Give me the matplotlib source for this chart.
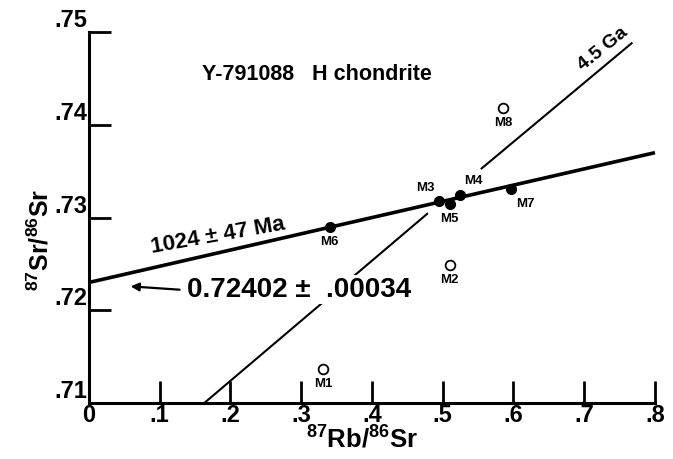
import numpy as np
import matplotlib
matplotlib.use("Agg")
import matplotlib.pyplot as plt

plt.rcParams['font.family'] = ['Liberation Sans', 'DejaVu Sans']
plt.rcParams['font.weight'] = 'bold'
plt.rcParams['mathtext.fontset'] = 'custom'
plt.rcParams['mathtext.rm'] = 'Liberation Sans:bold'
plt.rcParams['mathtext.bf'] = 'Liberation Sans:bold'
plt.rcParams['mathtext.default'] = 'rm'

# データ点 (87Rb/86Sr, 87Sr/86Sr)
names = ['M1', 'M2', 'M3', 'M4', 'M5', 'M6', 'M7', 'M8']
rb = [0.331, 0.510, 0.495, 0.525, 0.510, 0.340, 0.597, 0.585]
sr = [0.7137, 0.7249, 0.7318, 0.7324, 0.7315, 0.7290, 0.7331, 0.7418]
filled = [False, False, True, True, True, True, True, False]

# ラベルのずらし (points)
lab_dx = [0, 0, -10, 9, 0, 0, 10, 0]
lab_dy = [-11, -11, 9, 10, -11, -11, -11, -11]

# アイソクロン (1024 Ma) と 4.5 Ga 参照線の端点
iso_x = [0.0, 0.8]
iso_y = [0.7230, 0.7370]
ref_lo_x = [0.163, 0.478]
ref_lo_y = [0.7100, 0.7304]
ref_hi_x = [0.555, 0.767]
ref_hi_y = [0.7353, 0.7488]

xticks = [0, 0.1, 0.2, 0.3, 0.4, 0.5, 0.6, 0.7, 0.8]
xtlabels = ['0', '.1', '.2', '.3', '.4', '.5', '.6', '.7', '.8']
yticks = [0.71, 0.72, 0.73, 0.74, 0.75]
ytlabels = ['.71', '.72', '.73', '.74', '.75']

fig = plt.figure(figsize=(6.73, 4.59), dpi=100)
ax = fig.add_axes([0.1322, 0.122, 0.841, 0.808])

ax.plot(iso_x, iso_y, color='black', lw=2.6, solid_capstyle='butt', clip_on=False)
ax.plot(ref_lo_x, ref_lo_y, color='black', lw=1.5, clip_on=False)
ax.plot(ref_hi_x, ref_hi_y, color='black', lw=1.5, clip_on=False)

for i in range(len(names)):
    if filled[i]:
        ax.plot(rb[i], sr[i], 'o', color='black', ms=7, zorder=5)
    else:
        ax.plot(rb[i], sr[i], 'o', mfc='white', mec='black', mew=1.3, ms=7, zorder=5)
    ax.annotate(names[i], (rb[i], sr[i]), xytext=(lab_dx[i], lab_dy[i]),
                textcoords='offset points', ha='center', va='center',
                fontsize=9.5, fontweight='bold')

ax.text(0.16, 0.7454, 'Y-791088   H chondrite', fontsize=15.5, fontweight='bold',
        ha='left', va='center')
ax.text(0.088, 0.7268, '1024 \u00b1 47 Ma', fontsize=16, fontweight='bold',
        ha='left', va='center', rotation=10, rotation_mode='anchor')
ax.text(0.138, 0.7222, '0.72402 \u00b1  .00034', fontsize=20, fontweight='bold',
        ha='left', va='center', zorder=6,
        bbox=dict(fc='white', ec='none', pad=1))
ax.annotate('', xy=(0.055, 0.7226), xytext=(0.132, 0.7222),
            arrowprops=dict(arrowstyle='-|>', color='black', lw=1.6,
                            mutation_scale=12))
ax.text(0.727, 0.7482, '4.5 Ga', fontsize=14, fontweight='bold',
        ha='center', va='center', rotation=39)

ax.set_xlim(0, 0.8)
ax.set_ylim(0.71, 0.75)
ax.spines['top'].set_visible(False)
ax.spines['right'].set_visible(False)
ax.spines['left'].set_linewidth(2.2)
ax.spines['bottom'].set_linewidth(2.2)
ax.set_xticks(xticks)
ax.set_xticklabels(xtlabels, fontsize=17, fontweight='bold')
ax.set_yticks(yticks)
ax.set_yticklabels(ytlabels, fontsize=17, fontweight='bold')
ax.tick_params(direction='in', length=16, width=2.0, pad=1)
for lab in ax.get_yticklabels():
    lab.set_va('bottom')

ax.set_xlabel(r'$^{87}$Rb/$^{86}$Sr', fontsize=18.5, fontweight='bold')
ax.xaxis.set_label_coords(0.482, -0.062)
ax.set_ylabel(r'$^{87}$Sr/$^{86}$Sr', fontsize=18, fontweight='bold')
ax.yaxis.set_label_coords(-0.062, 0.44)

fig.savefig('out.png', dpi=100)
